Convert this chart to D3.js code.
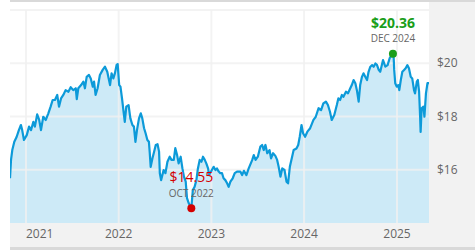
<!DOCTYPE html>
<html lang="en">
<head>
<meta charset="utf-8">
<title>Price history</title>
<script src="https://cdn.jsdelivr.net/npm/d3@7"></script>
<style>
  body{ margin:0; background:#fff; }
  svg{ display:block; font-family:"Open Sans","Liberation Sans",Arial,sans-serif; }
  .tick-label{ fill:#666; font-size:12px; }
</style>
</head>
<body>
<div id="chart"></div>
<script>
// price series, one line per year
var dates = [
  "2020-10-30","2020-11-03","2020-11-08","2020-11-16","2020-11-25","2020-12-04","2020-12-12","2020-12-17","2020-12-24",
  "2021-01-04","2021-01-13","2021-01-21","2021-01-30","2021-02-05","2021-02-14","2021-02-22","2021-03-01","2021-03-10","2021-03-20","2021-03-30","2021-04-08","2021-04-16","2021-04-25","2021-05-04","2021-05-11","2021-05-19","2021-05-28","2021-06-06","2021-06-17","2021-06-26","2021-07-06","2021-07-16","2021-07-20","2021-07-26","2021-08-06","2021-08-15","2021-08-21","2021-08-28","2021-09-06","2021-09-13","2021-09-21","2021-09-26","2021-10-02","2021-10-10","2021-10-19","2021-10-30","2021-11-08","2021-11-17","2021-11-28","2021-12-04","2021-12-11","2021-12-17","2021-12-24","2021-12-28",
  "2022-01-03","2022-01-08","2022-01-14","2022-01-21","2022-01-25","2022-01-31","2022-02-09","2022-02-16","2022-02-24","2022-03-02","2022-03-08","2022-03-14","2022-03-22","2022-03-29","2022-04-04","2022-04-11","2022-04-17","2022-04-24","2022-04-30","2022-05-03","2022-05-07","2022-05-14","2022-05-19","2022-05-27","2022-06-03","2022-06-09","2022-06-12","2022-06-17","2022-06-27","2022-07-04","2022-07-12","2022-07-21","2022-07-28","2022-08-06","2022-08-12","2022-08-19","2022-08-25","2022-09-02","2022-09-09","2022-09-15","2022-09-22","2022-09-27","2022-10-04","2022-10-14","2022-10-20","2022-10-27","2022-11-03","2022-11-09","2022-11-16","2022-11-23","2022-11-29","2022-12-06","2022-12-12","2022-12-19","2022-12-23",
  "2023-01-03","2023-01-10","2023-01-17","2023-01-23","2023-01-30","2023-02-05","2023-02-12","2023-02-18","2023-02-25","2023-03-04","2023-03-10","2023-03-17","2023-03-26","2023-04-03","2023-04-12","2023-04-25","2023-05-02","2023-05-09","2023-05-19","2023-05-28","2023-06-11","2023-06-17","2023-06-24","2023-07-03","2023-07-13","2023-07-20","2023-07-26","2023-08-02","2023-08-09","2023-08-18","2023-08-24","2023-09-01","2023-09-10","2023-09-17","2023-09-23","2023-09-30","2023-10-07","2023-10-16","2023-10-24","2023-10-30","2023-11-06","2023-11-15","2023-11-21","2023-12-02","2023-12-09","2023-12-15","2023-12-22","2023-12-28",
  "2024-01-05","2024-01-14","2024-01-25","2024-02-07","2024-02-16","2024-02-27","2024-03-08","2024-03-17","2024-03-27","2024-04-04","2024-04-12","2024-04-19","2024-04-29","2024-05-09","2024-05-15","2024-05-22","2024-05-29","2024-06-04","2024-06-14","2024-06-22","2024-07-01","2024-07-07","2024-07-14","2024-07-21","2024-07-27","2024-08-03","2024-08-09","2024-08-16","2024-08-22","2024-08-29","2024-09-05","2024-09-11","2024-09-18","2024-09-25","2024-10-01","2024-10-08","2024-10-14","2024-10-21","2024-10-27","2024-11-07","2024-11-16","2024-11-25","2024-12-03","2024-12-16","2024-12-19","2024-12-21","2024-12-25","2024-12-31",
  "2025-01-06","2025-01-10","2025-01-16","2025-01-22","2025-01-29","2025-02-04","2025-02-11","2025-02-17","2025-02-24","2025-03-02","2025-03-09","2025-03-13","2025-03-20","2025-03-24","2025-03-29","2025-04-02","2025-04-04","2025-04-08","2025-04-15","2025-04-19","2025-04-25","2025-05-01","2025-05-07"
]
var prices = [
  15.68,16.37,16.74,17.05,17.23,17.49,17.68,17.49,17.12,
  17.30,17.62,17.49,17.80,17.62,18.08,17.87,17.49,17.99,17.87,18.12,18.37,18.62,18.62,18.81,18.37,18.68,18.81,18.99,18.93,19.10,18.99,19.06,18.65,19.06,19.18,19.31,19.06,19.49,19.56,19.43,19.12,19.31,18.81,19.06,19.56,19.75,19.87,19.68,19.18,19.62,19.43,19.62,19.94,19.97,
  19.18,19.12,18.69,18.12,17.80,18.37,18.43,17.93,17.68,17.62,17.05,17.49,17.93,18.12,17.93,17.56,17.37,17.12,17.05,16.68,16.11,16.43,16.62,16.93,16.96,16.68,15.87,15.61,15.99,15.87,16.30,16.49,16.37,16.37,16.81,16.55,16.24,16.49,16.05,15.74,15.55,14.93,14.74,14.55,15.24,15.36,15.61,16.05,16.37,16.30,16.49,16.37,16.24,16.05,15.80,
  15.99,16.11,15.99,16.05,15.93,15.87,15.87,15.68,15.61,15.49,15.36,15.55,15.68,15.87,15.93,15.93,15.80,15.96,15.80,16.05,16.37,16.55,16.37,16.49,16.87,16.93,16.74,16.93,16.62,16.74,16.43,16.62,16.52,16.37,16.11,15.74,16.05,15.99,15.55,15.49,16.11,16.49,16.74,16.80,16.93,17.24,17.68,17.37,
  17.24,17.43,17.56,17.87,17.99,18.31,18.24,18.49,18.56,18.43,18.18,17.87,18.06,18.43,18.68,18.62,18.81,18.74,18.93,18.87,19.06,19.18,19.37,19.25,18.99,18.56,19.18,19.49,19.62,19.49,19.37,19.68,19.87,19.93,19.87,19.99,19.94,19.75,19.68,20.12,19.87,19.93,20.19,20.36,20.19,19.75,19.25,19.12,
  19.18,18.99,19.37,19.68,19.75,19.81,19.93,19.81,19.49,19.43,18.99,18.87,19.31,19.37,18.93,17.99,17.42,18.31,18.37,17.99,18.87,19.25,19.25
]
var yearTicks = ["2021","2022","2023","2024","2025"]
var priceTicks = [16,18,20,22]
var priceDomain = [14,22]

var width = 475, height = 250
var plot = {left:10, right:429, top:10, bottom:223}

var parse = d3.timeParse("%Y-%m-%d")
var data = dates.map(function(d,i){ return {date:parse(d), price:prices[i]} })

var x = d3.scaleTime()
  .domain(d3.extent(data, function(d){ return d.date }))
  .range([plot.left, plot.right])
var y = d3.scaleLinear().domain(priceDomain).range([plot.bottom, plot.top])

var svg = d3.select("#chart").append("svg").attr("width",width).attr("height",height)

// panels
svg.append("rect").attr("x",plot.left).attr("y",0).attr("width",width-plot.left).attr("height",2).attr("fill","#d9d9d9")
svg.append("rect").attr("x",plot.right).attr("y",2).attr("width",width-plot.right).attr("height",245).attr("fill","#f2f2f2")
svg.append("rect").attr("x",plot.left).attr("y",plot.bottom).attr("width",width-plot.left).attr("height",247-plot.bottom).attr("fill","#f2f2f2")
svg.append("rect").attr("x",plot.left).attr("y",247).attr("width",width-plot.left).attr("height",3).attr("fill","#d9d9d9")

svg.append("clipPath").attr("id","clip").append("rect")
  .attr("x",plot.left).attr("y",plot.top-4).attr("width",plot.right-plot.left).attr("height",plot.bottom-plot.top+4)

var area = d3.area()
  .x(function(d){ return x(d.date) })
  .y0(plot.bottom)
  .y1(function(d){ return y(d.price) })
var line = d3.line()
  .x(function(d){ return x(d.date) })
  .y(function(d){ return y(d.price) })

svg.append("path").datum(data).attr("d",area).attr("fill","#cdeaf7").attr("clip-path","url(#clip)")

// grid on top of the fill
var yearDates = yearTicks.map(function(t){ return parse(t+"-01-01") })
svg.selectAll(".vgrid").data(yearDates).enter().append("line")
  .attr("class","vgrid")
  .attr("x1",function(d){ return x(d) }).attr("x2",function(d){ return x(d) })
  .attr("y1",plot.top).attr("y2",plot.bottom)
  .attr("stroke","#f0f0f0").attr("stroke-opacity",0.8).attr("stroke-width",2)
svg.selectAll(".hgrid").data(priceTicks).enter().append("line")
  .attr("class","hgrid")
  .attr("x1",plot.left).attr("x2",plot.right)
  .attr("y1",function(d){ return y(d) }).attr("y2",function(d){ return y(d) })
  .attr("stroke","#f0f0f0").attr("stroke-opacity",0.8).attr("stroke-width",2)

svg.append("path").datum(data).attr("d",line)
  .attr("fill","none").attr("stroke","#0c9ad9").attr("stroke-width",2.2)
  .attr("stroke-linejoin","round").attr("clip-path","url(#clip)")

// axis labels
svg.selectAll(".ylab").data(priceTicks.filter(function(d){ return d < priceDomain[1] })).enter().append("text")
  .attr("class","tick-label")
  .attr("x",plot.right+8).attr("y",function(d){ return y(d) }).attr("dy","0.35em")
  .text(function(d){ return "$"+d })
svg.selectAll(".xlab").data(yearDates).enter().append("text")
  .attr("class","tick-label")
  .attr("x",function(d){ return x(d) }).attr("y",238)
  .attr("text-anchor",function(d,i){ return i==0 ? "start" : "middle" })
  .text(function(d,i){ return yearTicks[i] })

// min / max markers
var lo = data[d3.minIndex(data,function(d){ return d.price })]
var hi = data[d3.maxIndex(data,function(d){ return d.price })]
var fmt = d3.timeFormat("%b %Y")
var marks = [
  {d:hi, color:"#1a9e1a", weight:"bold"},
  {d:lo, color:"#d40000", weight:"normal"}
]
marks.forEach(function(m){
  var cx = x(m.d.date), cy = y(m.d.price)
  svg.append("circle").attr("cx",cx).attr("cy",cy).attr("r",4).attr("fill",m.color)
  svg.append("text").attr("x",cx).attr("y",cy-26).attr("text-anchor","middle")
    .attr("fill",m.color).attr("font-size",14).attr("font-weight",m.weight)
    .text("$"+m.d.price.toFixed(2))
  svg.append("text").attr("x",cx).attr("y",cy-11.5).attr("text-anchor","middle")
    .attr("fill","#666").attr("font-size",10)
    .text(fmt(m.d.date).toUpperCase())
})
</script>
</body>
</html>
